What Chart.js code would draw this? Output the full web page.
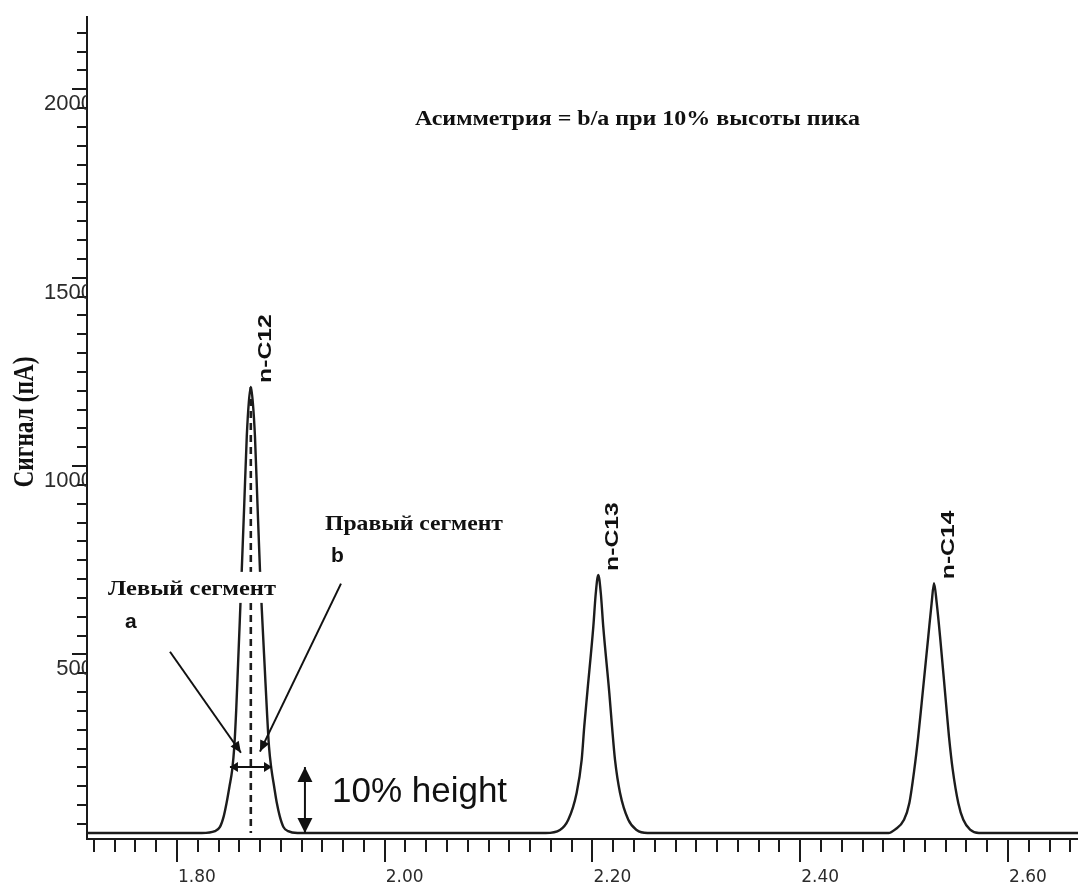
<!DOCTYPE html>
<html>
<head>
<meta charset="utf-8">
<title>Асимметрия пика</title>
<script src="https://cdn.jsdelivr.net/npm/chart.js@4.4.1/dist/chart.umd.min.js"></script>
<style>
  html, body { margin: 0; padding: 0; background: #ffffff; }
  #wrap { width: 1078px; height: 886px; position: relative; }
</style>
</head>
<body>
<div id="wrap"><canvas id="chrom" width="1078" height="886"></canvas></div>
<script>
// ---- axis ranges and labelled ticks ----
const X_MIN = 1.7134, X_MAX = 2.6674;        // retention time, min
const Y_MIN = 10, Y_MAX = 2192;              // signal, pA
const X_TICKS = [1.80, 2.00, 2.20, 2.40, 2.60];
const Y_TICKS = [500, 1000, 1500, 2000];
const X_MINOR_STEP = 0.02;
const Y_MINOR_STEP = 50;

// ---- baseline ends ----
const BASE_T = [1.7134, 2.6674];
const BASE_S = [26, 26];

// ---- n-C12 peak ----
const C12_T = [1.8240, 1.8366, 1.8414, 1.8450, 1.8478, 1.8506, 1.8532, 1.8552, 1.8570, 1.8586,
               1.8605, 1.8624, 1.8648, 1.8672, 1.8692, 1.8711, 1.8730, 1.8751, 1.8775, 1.8799,
               1.8822, 1.8846, 1.8866, 1.8886, 1.8910, 1.8935, 1.8961, 1.8990, 1.9025, 1.9070, 1.9160];
const C12_S = [26, 31, 42, 70, 106, 150, 194, 255, 350, 459,
               590, 725, 900, 1078, 1170, 1210, 1170, 1078, 900, 725,
               590, 459, 350, 255, 194, 150, 106, 70, 42, 31, 26];

// ---- n-C13 peak ----
const C13_T = [2.1550, 2.1687, 2.1767, 2.1848, 2.1896, 2.1921, 2.1950, 2.2008, 2.2032, 2.2056,
               2.2080, 2.2104, 2.2162, 2.2188, 2.2217, 2.2265, 2.2345, 2.2425, 2.2530];
const C13_S = [26, 34, 61, 133, 220, 309, 398, 573, 663, 711,
               663, 573, 398, 309, 220, 133, 61, 34, 26];

// ---- n-C14 peak ----
const C14_T = [2.4850, 2.4912, 2.4999, 2.5050, 2.5098, 2.5136, 2.5169, 2.5233, 2.5265, 2.5288,
               2.5314, 2.5346, 2.5403, 2.5432, 2.5468, 2.5522, 2.5570, 2.5635, 2.5720];
const C14_S = [26, 35, 61, 105, 194, 282, 371, 548, 636, 689,
               636, 548, 371, 282, 194, 105, 61, 35, 26];

const PEAKS = [
  { name: 'n-C12', t: C12_T, s: C12_S },
  { name: 'n-C13', t: C13_T, s: C13_S },
  { name: 'n-C14', t: C14_T, s: C14_S }
];

// ---- annotation layout (axis units) ----
const NOTES = {
  title:  { text: 'Асимметрия = b/a при 10% высоты пика', t: 2.0291, s: 1906, font: 'bold 21px "Liberation Serif"', width: 445 },
  right:  { text: 'Правый сегмент', t: 1.9425, s: 831, font: 'bold 22px "Liberation Serif"', width: 178 },
  b:      { text: 'b', t: 1.9483, s: 746, font: 'bold 21px "Liberation Sans"' },
  left:   { text: 'Левый сегмент', t: 1.7336, s: 658, font: 'bold 22px "Liberation Serif"', width: 168, backdrop: true },
  a:      { text: 'a', t: 1.7499, s: 571, font: 'bold 21px "Liberation Sans"' },
  height: { text: '10% height', t: 1.9492, s: 109, font: '35px "Liberation Sans"' }
};
const ARROWS = [
  { from: [1.7933, 507], to: [1.8616, 239], heads: 'end',  len: 11, half: 5 },
  { from: [1.9579, 688], to: [1.8799, 242], heads: 'end',  len: 11, half: 5 },
  { from: [1.8510, 201], to: [1.8915, 201], heads: 'both', len: 8,  half: 5 },
  { from: [1.9232, 201], to: [1.9232, 26],  heads: 'both', len: 15, half: 7.5 }
];

// ---- build the trace ----
function pts(ts, ss) { return ts.map((t, i) => ({ x: t, y: ss[i] })); }
const trace = [].concat(
  pts([BASE_T[0]], [BASE_S[0]]),
  pts(C12_T, C12_S),
  pts(C13_T, C13_S),
  pts(C14_T, C14_S),
  pts([BASE_T[1]], [BASE_S[1]])
);
function apexOf(p) {
  let k = 0;
  p.s.forEach((v, i) => { if (v > p.s[k]) k = i; });
  return { t: p.t[k], s: p.s[k] };
}
const c12Apex = apexOf(PEAKS[0]);
const apexLine = [{ x: c12Apex.t, y: c12Apex.s }, { x: c12Apex.t, y: BASE_S[0] }];

// ---- drawing helpers ----
function head(ctx, x1, y1, x2, y2, len, half) {
  const a = Math.atan2(y2 - y1, x2 - x1);
  const c = Math.cos(a), s = Math.sin(a);
  ctx.beginPath();
  ctx.moveTo(x2, y2);
  ctx.lineTo(x2 - len * c + half * s, y2 - len * s - half * c);
  ctx.lineTo(x2 - len * c - half * s, y2 - len * s + half * c);
  ctx.closePath();
  ctx.fill();
}
function fitText(ctx, str, x, y, font, width) {
  ctx.font = font;
  const w = ctx.measureText(str).width;
  const k = width ? width / w : 1;
  ctx.save();
  ctx.translate(x, y);
  ctx.scale(k, 1);
  ctx.fillText(str, 0, 0);
  ctx.restore();
  return w * k;
}

const annotate = {
  id: 'annotate',
  // minor/major tick marks go underneath the axis labels
  beforeDraw(chart) {
    const { ctx, scales: { x, y }, chartArea: area } = chart;
    ctx.save();
    ctx.strokeStyle = '#1a1a1a';
    ctx.lineWidth = 2;
    for (let k = Math.ceil(Y_MIN / Y_MINOR_STEP); k * Y_MINOR_STEP <= Y_MAX; k++) {
      const v = k * Y_MINOR_STEP;
      const py = Math.round(y.getPixelForValue(v));
      const len = (k % 10 === 0) ? 15 : 10;
      ctx.beginPath();
      ctx.moveTo(area.left - len, py);
      ctx.lineTo(area.left, py);
      ctx.stroke();
    }
    for (let k = Math.ceil(X_MIN / X_MINOR_STEP - 1e-6); k * X_MINOR_STEP <= X_MAX + 1e-9; k++) {
      const v = k * X_MINOR_STEP;
      const px = Math.round(x.getPixelForValue(v));
      const len = (k % 10 === 0) ? 23 : 13;
      ctx.beginPath();
      ctx.moveTo(px, area.bottom);
      ctx.lineTo(px, area.bottom + len);
      ctx.stroke();
    }
    ctx.restore();
  },
  afterDatasetsDraw(chart) {
    const { ctx, scales: { x, y } } = chart;
    const X = t => x.getPixelForValue(t);
    const Y = s => y.getPixelForValue(s);
    ctx.save();
    ctx.fillStyle = '#111';
    ctx.strokeStyle = '#111';
    ctx.lineWidth = 2;
    ctx.textAlign = 'left';
    ctx.textBaseline = 'alphabetic';

    // white backdrop hides the peak lines behind the left caption
    Object.values(NOTES).forEach(n => {
      if (!n.backdrop) return;
      ctx.fillStyle = '#fff';
      ctx.fillRect(X(n.t) - 3, Y(n.s) - 23, n.width + 8, 31);
      ctx.fillStyle = '#111';
    });
    Object.values(NOTES).forEach(n => {
      fitText(ctx, n.text, X(n.t), Y(n.s), n.font, n.width);
    });

    // arrows
    ARROWS.forEach(a => {
      const x1 = X(a.from[0]), y1 = Y(a.from[1]);
      const x2 = X(a.to[0]), y2 = Y(a.to[1]);
      ctx.beginPath();
      ctx.moveTo(x1, y1);
      ctx.lineTo(x2, y2);
      ctx.stroke();
      head(ctx, x1, y1, x2, y2, a.len, a.half);
      if (a.heads === 'both') head(ctx, x2, y2, x1, y1, a.len, a.half);
    });

    // peak names, reading upwards beside each apex
    ctx.font = 'bold 19px "Liberation Sans"';
    PEAKS.forEach(p => {
      const ap = apexOf(p);
      ctx.save();
      ctx.translate(X(ap.t) + 20, Y(ap.s) - 4);
      ctx.rotate(-Math.PI / 2);
      ctx.scale(1.3, 1);
      ctx.fillText(p.name, 0, 0);
      ctx.restore();
    });

    // signal axis title
    ctx.save();
    ctx.font = 'bold 24px "Liberation Serif"';
    const label = 'Сигнал (пА)';
    const w = ctx.measureText(label).width;
    ctx.translate(y.left + 33, 422 + 131 / 2);
    ctx.rotate(-Math.PI / 2);
    ctx.scale(131 / w, 1.2);
    ctx.fillText(label, 0, 0);
    ctx.restore();
    ctx.restore();
  }
};

new Chart(document.getElementById('chrom'), {
  type: 'scatter',
  data: {
    datasets: [
      {
        data: trace,
        showLine: true,
        borderColor: '#1c1c1c',
        borderWidth: 2.4,
        pointRadius: 0,
        cubicInterpolationMode: 'monotone',
        fill: false
      },
      {
        data: apexLine,
        showLine: true,
        borderColor: '#1c1c1c',
        borderWidth: 2.6,
        borderDash: [7, 5],
        pointRadius: 0,
        fill: false
      }
    ]
  },
  options: {
    responsive: false,
    animation: false,
    devicePixelRatio: 1,
    layout: { padding: { top: 17, right: 0, bottom: 0, left: 0 } },
    plugins: {
      legend: { display: false },
      tooltip: { enabled: false },
      title: { display: false }
    },
    scales: {
      x: {
        type: 'linear',
        position: 'bottom',
        min: X_MIN,
        max: X_MAX,
        afterBuildTicks: s => { s.ticks = X_TICKS.map(v => ({ value: v })); },
        afterFit: s => { s.height = 47; },
        grid: { display: false, drawTicks: false },
        border: { display: true, color: '#1a1a1a', width: 2 },
        ticks: {
          autoSkip: false,
          maxRotation: 0,
          labelOffset: 20,
          padding: 28,
          color: '#2b2b2b',
          font: { family: '"DejaVu Sans"', size: 17 },
          callback: v => Number(v).toFixed(2)
        }
      },
      y: {
        type: 'linear',
        position: 'left',
        min: Y_MIN,
        max: Y_MAX,
        afterBuildTicks: s => { s.ticks = Y_TICKS.map(v => ({ value: v })); },
        afterFit: s => { s.width = 87; },
        grid: { display: false, drawTicks: false },
        border: { display: true, color: '#1a1a1a', width: 2 },
        ticks: {
          autoSkip: false,
          labelOffset: 15,
          padding: -6,
          color: '#2b2b2b',
          font: { family: '"Liberation Sans"', size: 22 },
          callback: v => String(v)
        }
      }
    }
  },
  plugins: [annotate]
});
</script>
</body>
</html>
